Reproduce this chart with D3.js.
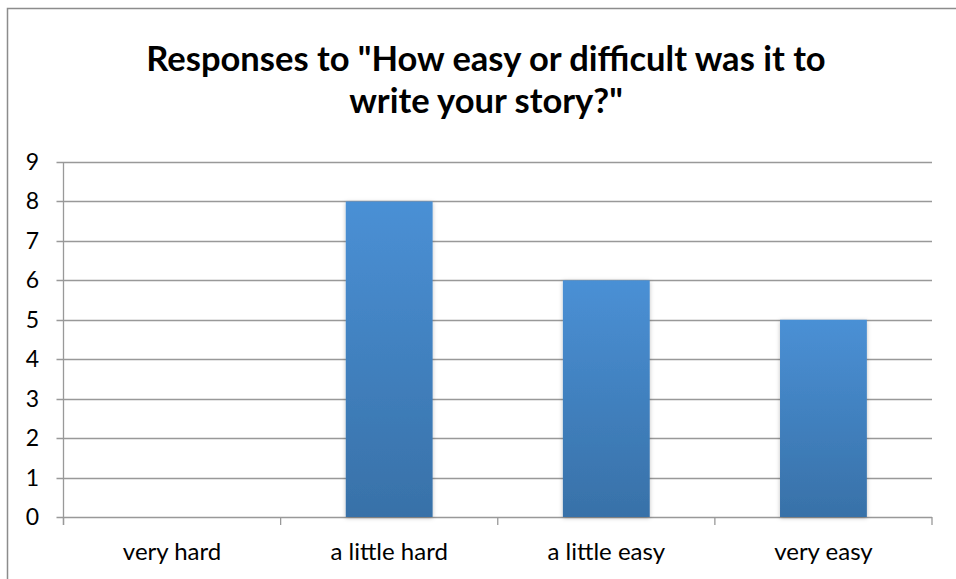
<!DOCTYPE html>
<html><head><meta charset="utf-8">
<script src="https://cdn.jsdelivr.net/npm/d3@7"></script>
<style>body{margin:0;background:#fff}svg{display:block}</style>
</head><body>
<svg id="c" width="956" height="579"></svg>
<script>
const categories = ["very hard", "a little hard", "a little easy", "very easy"];
const values = [0, 8, 6, 5];
const yTicks = [0,1,2,3,4,5,6,7,8,9];
const titleLines = ['Responses to "How easy or difficult was it to', 'write your story?"'];

const svg = d3.select("#c");
const font = "Lato, 'Open Sans', sans-serif";
const m = {left: 63.5, right: 932, top: 162, bottom: 517};

svg.append("rect").attr("x", 7.5).attr("y", 8.5).attr("width", 960).attr("height", 580)
  .attr("fill", "#fff").attr("stroke", "#8c8c8c").attr("stroke-width", 1.5);

const defs = svg.append("defs");
const g = defs.append("linearGradient").attr("id", "bg").attr("x1", 0).attr("y1", 0).attr("x2", 0).attr("y2", 1);
g.append("stop").attr("offset", "0%").attr("stop-color", "#4a90d5");
g.append("stop").attr("offset", "100%").attr("stop-color", "#3871a8");
const f = defs.append("filter").attr("id", "sh").attr("x", "-20%").attr("y", "-5%").attr("width", "140%").attr("height", "115%");
f.append("feDropShadow").attr("dx", 0).attr("dy", 1).attr("stdDeviation", 2).attr("flood-color", "#000").attr("flood-opacity", 0.25);

const x = d3.scaleBand().domain(categories).range([m.left, m.right]).padding(0);
const y = d3.scaleLinear().domain([0, 9]).range([m.bottom, m.top]);

// gridlines
svg.append("g").selectAll("line").data(yTicks).join("line")
  .attr("x1", m.left - 7).attr("x2", m.right)
  .attr("y1", d => Math.round(y(d)) + 0.5).attr("y2", d => Math.round(y(d)) + 0.5)
  .attr("stroke", "#999").attr("stroke-width", 1.3);

// y axis line
svg.append("line").attr("x1", m.left).attr("x2", m.left).attr("y1", m.top).attr("y2", m.bottom + 8)
  .attr("stroke", "#999").attr("stroke-width", 1.3);

// x ticks at band boundaries
const bounds = categories.map(c => x(c)).concat([m.right]);
svg.append("g").selectAll("line").data(bounds).join("line")
  .attr("x1", d => d).attr("x2", d => d).attr("y1", m.bottom).attr("y2", m.bottom + 8)
  .attr("stroke", "#999").attr("stroke-width", 1.3);

// bars
const bw = x.bandwidth() * 0.4;
svg.append("g").selectAll("rect").data(values.map((v, i) => ({v, c: categories[i]})).filter(d => d.v > 0)).join("rect")
  .attr("x", d => x(d.c) + x.bandwidth() / 2 - bw / 2)
  .attr("y", d => y(d.v))
  .attr("width", bw)
  .attr("height", d => y(0) - y(d.v))
  .attr("fill", "url(#bg)")
  .attr("filter", "url(#sh)");

// y tick labels
svg.append("g").selectAll("text").data(yTicks).join("text")
  .attr("x", 39).attr("y", d => y(d) + 8)
  .attr("text-anchor", "end").attr("font-family", font).attr("font-size", 23).attr("fill", "#000")
  .text(d => d);

// x labels
svg.append("g").selectAll("text").data(categories).join("text")
  .attr("x", d => x(d) + x.bandwidth() / 2).attr("y", 560)
  .attr("text-anchor", "middle").attr("font-family", font).attr("font-size", 24).attr("fill", "#000")
  .text(d => d);

// title
svg.append("g").selectAll("text").data(titleLines).join("text")
  .attr("x", 486).attr("y", (d, i) => 71 + i * 42)
  .attr("text-anchor", "middle").attr("font-family", font).attr("font-weight", "bold")
  .attr("font-size", 34.5).attr("fill", "#000")
  .text(d => d);
</script>
</body></html>
